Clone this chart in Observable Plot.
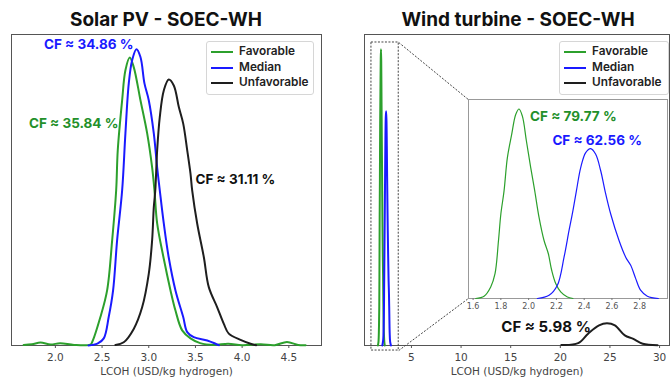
<!DOCTYPE html>
<html><head><meta charset="utf-8">
<script src="https://cdn.jsdelivr.net/npm/d3@7"></script>
<script src="https://cdn.jsdelivr.net/npm/@observablehq/plot@0.6"></script>
<style>
body{margin:0;background:#fff;}
#root{position:relative;width:670px;height:378px;overflow:hidden;font-family:"DejaVu Sans",sans-serif;}
.title{position:absolute;top:8px;width:300px;line-height:21px;font:700 19px Inter,sans-serif;color:#111;text-align:center;}
.legend{position:absolute;top:41px;height:54px;box-sizing:border-box;border:1px solid #d6d6d6;border-radius:3px;background:#fff;padding-top:2px;}
.row{position:relative;height:15.5px;font:600 11.8px Inter,sans-serif;color:#222;line-height:15.5px;}
.row .sw{position:absolute;left:4px;top:7px;width:22px;height:2px;}
.row .lb{position:absolute;left:32px;top:0;white-space:nowrap;}
</style></head>
<body><div id="root"></div>
<script>
// ---- series & labels ----
const seriesNames = ["Favorable", "Median", "Unfavorable"];
const seriesColors = ["#2ca02c", "#1a1aff", "#1e1e1e"];
const labelColors = ["#23902a", "#1a1aff", "#111111"];
const panelTitles = ["Solar PV - SOEC-WH", "Wind turbine - SOEC-WH"];
const axisLabel = "LCOH (USD/kg hydrogen)";

// ---- Solar PV densities (LCOH, normalized density) ----
const solarFavorable = [[1.66,0.002],[1.75,0.004],[1.84,0.01],[1.95,0.003],[2.05,0.008],[2.2,0.002],[2.375,0.003],[2.393,0.011],[2.482,0.096],[2.554,0.186],[2.608,0.355],[2.651,0.524],[2.668,0.659],[2.715,0.828],[2.75,0.929],[2.796,0.972],[2.839,0.94],[2.911,0.828],[2.983,0.716],[3.036,0.601],[3.061,0.524],[3.09,0.412],[3.158,0.297],[3.233,0.186],[3.286,0.118],[3.358,0.051],[3.447,0.024],[3.55,0.008],[3.7,0.002],[3.85,0.006],[4.0,0.001],[4.2,0.004],[4.35,0.001],[4.48,0.012],[4.6,0.002],[4.68,0.001]];
const solarMedian = [[2.354,0],[2.45,0.006],[2.518,0.024],[2.571,0.096],[2.618,0.186],[2.661,0.355],[2.715,0.524],[2.75,0.716],[2.786,0.885],[2.822,0.963],[2.868,1.0],[2.911,0.974],[2.954,0.885],[3.0,0.828],[3.054,0.716],[3.09,0.601],[3.118,0.524],[3.161,0.412],[3.214,0.297],[3.286,0.186],[3.369,0.096],[3.412,0.045],[3.482,0.028],[3.626,0.017],[3.715,0.006],[3.75,0.001]];
const solarUnfavorable = [[2.643,0.002],[2.732,0.011],[2.839,0.056],[2.929,0.129],[3.0,0.242],[3.036,0.355],[3.054,0.467],[3.07,0.524],[3.09,0.659],[3.118,0.771],[3.161,0.861],[3.214,0.898],[3.268,0.878],[3.322,0.805],[3.369,0.749],[3.412,0.659],[3.447,0.58],[3.465,0.524],[3.519,0.411],[3.59,0.298],[3.643,0.197],[3.733,0.129],[3.804,0.073],[3.857,0.04],[3.983,0.019],[4.09,0.006],[4.15,0.001]];

// ---- Wind turbine densities ----
const windFavorable = [[1.619,0],[1.679,0.012],[1.727,0.061],[1.758,0.131],[1.783,0.306],[1.8,0.446],[1.823,0.568],[1.847,0.743],[1.878,0.866],[1.907,0.971],[1.931,1.0],[1.955,0.962],[1.984,0.831],[2.015,0.691],[2.044,0.568],[2.075,0.428],[2.111,0.306],[2.142,0.236],[2.166,0.149],[2.195,0.079],[2.231,0.035],[2.279,0.008],[2.319,0]];
const windMedian = [[2.063,0],[2.147,0.017],[2.207,0.07],[2.255,0.218],[2.291,0.359],[2.319,0.464],[2.344,0.568],[2.375,0.691],[2.411,0.77],[2.447,0.791],[2.483,0.761],[2.519,0.674],[2.55,0.568],[2.591,0.446],[2.651,0.306],[2.699,0.218],[2.735,0.175],[2.771,0.105],[2.806,0.044],[2.855,0.012],[2.934,0]];
const windUnfavorable = [[20.1,0.002],[21.8,0.008],[22.8,0.04],[23.9,0.068],[24.7,0.075],[25.5,0.068],[26.5,0.034],[27.3,0.023],[28.3,0.006],[29.8,0.001]];

// ---- tick labels ----
const solarTicks = [2.0, 2.5, 3.0, 3.5, 4.0, 4.5];
const windTicks = [5, 10, 15, 20, 25, 30];
const insetTicks = [1.6, 1.8, 2.0, 2.2, 2.4, 2.6, 2.8];

// ---- capacity-factor annotations ----
const solarCF = ["CF ≈ 35.84 %", "CF ≈ 34.86 %", "CF ≈ 31.11 %"];
const windCF = ["CF ≈ 79.77 %", "CF ≈ 62.56 %", "CF ≈ 5.98 %"];

// ---- layout (data-space anchors, kept separate from values) ----
const solarXDomain = [1.53, 4.85];
const windXDomain = [0.27, 31.0];
const insetXDomain = [1.567, 3.0];
const yDomain = [0, 1.05];
const solarCFPos = [[2.675, 0.75, "end"], [2.836, 1.014, "end"], [3.5, 0.561, "start"]];
const insetCFPos = [[2.01, 0.962, "start"], [2.171, 0.835, "start"]];
const windCFPos = [14.06, 0.062, "start"];
const zoomBox = {x1: 0.97, x2: 3.72, y1: -0.017, y2: 1.023};
const insetBox = {x1: 10.71, x2: 30.81, y1: 0.158, y2: 0.831};

const root = document.getElementById("root");

function curve(data, i, w) {
  return Plot.line(data, {x: d => d[0], y: d => d[1], stroke: seriesColors[i], strokeWidth: w, curve: "catmull-rom"});
}
function cfText(text, pos, i, size) {
  return Plot.text([text], {x: () => pos[0], y: () => pos[1], text: d => d, fill: labelColors[i],
    fontWeight: 700, fontSize: size, fontFamily: "Inter, sans-serif", textAnchor: pos[2]});
}
const axisStyle = {fontFamily: "DejaVu Sans, sans-serif", fontSize: "10.5px", color: "#444", background: "transparent", overflow: "visible"};

function addTitle(text, cx) {
  const t = document.createElement("div");
  t.className = "title"; t.textContent = text; t.style.left = (cx - 150) + "px";
  root.appendChild(t);
}
function addLegend(left, width) {
  const lg = document.createElement("div");
  lg.className = "legend"; lg.style.left = left + "px"; lg.style.width = width + "px";
  seriesNames.forEach((n, i) => {
    const r = document.createElement("div"); r.className = "row";
    r.innerHTML = `<span class="sw" style="background:${seriesColors[i]}"></span><span class="lb">${n}</span>`;
    lg.appendChild(r);
  });
  root.appendChild(lg);
}
function place(svg, left, top) {
  svg.style.position = "absolute"; svg.style.left = left + "px"; svg.style.top = top + "px";
  root.appendChild(svg);
}

// ---- left panel ----
const solarSeries = [solarFavorable, solarMedian, solarUnfavorable];
const left = Plot.plot({
  width: 335, height: 348, marginTop: 4, marginBottom: 33, marginLeft: 11, marginRight: 14,
  style: axisStyle,
  x: {domain: solarXDomain},
  y: {domain: yDomain, axis: null},
  marks: [
    Plot.frame({stroke: "#555"}),
    Plot.axisX({ticks: solarTicks, tickFormat: d3.format(".1f"), tickSize: 3, tickPadding: 5, stroke: "#555",
      label: axisLabel, labelAnchor: "center", labelOffset: 29, labelArrow: "none"}),
    ...solarSeries.map((s, i) => curve(s, i, 2)),
    ...solarCF.map((t, i) => cfText(t, solarCFPos[i], i, 13.5))
  ]
});
place(left, 0, 30);

// ---- right panel ----
const right = Plot.plot({
  width: 335, height: 348, marginTop: 4, marginBottom: 33, marginLeft: 29, marginRight: 1,
  style: axisStyle,
  x: {domain: windXDomain},
  y: {domain: yDomain, axis: null},
  marks: [
    Plot.frame({stroke: "#555"}),
    Plot.axisX({ticks: windTicks, tickFormat: d3.format("d"), tickSize: 3, tickPadding: 5, stroke: "#555",
      label: axisLabel, labelAnchor: "center", labelOffset: 29, labelArrow: "none"}),
    curve(windFavorable, 0, 2), curve(windMedian, 1, 2), curve(windUnfavorable, 2, 2),
    Plot.rect([zoomBox], {x1: "x1", x2: "x2", y1: "y1", y2: "y2", fill: "none", stroke: "#444", strokeWidth: 1, strokeDasharray: "2,1.5"}),
    Plot.link([{a: zoomBox.x2, b: zoomBox.y2, c: insetBox.x1, d: insetBox.y2}, {a: zoomBox.x2, b: zoomBox.y1, c: insetBox.x1, d: insetBox.y1}],
      {x1: "a", y1: "b", x2: "c", y2: "d", stroke: "#444", strokeWidth: 1, strokeDasharray: "2,1.5"}),
    cfText(windCF[2], windCFPos, 2, 15)
  ]
});
place(right, 335, 30);

// ---- inset (zoom of the two narrow wind densities) ----
const sx = right.scale("x"), sy = right.scale("y");
const px1 = sx.apply(insetBox.x1), px2 = sx.apply(insetBox.x2);
const py1 = sy.apply(insetBox.y2), py2 = sy.apply(insetBox.y1);
const im = {l: 6, r: 2, t: 2, b: 18};
const inset = Plot.plot({
  width: Math.round(px2 - px1) + im.l + im.r, height: Math.round(py2 - py1) + im.t + im.b,
  marginLeft: im.l, marginRight: im.r, marginTop: im.t, marginBottom: im.b,
  style: {fontFamily: "DejaVu Sans, sans-serif", fontSize: "8px", color: "#555", background: "transparent", overflow: "visible"},
  x: {domain: insetXDomain},
  y: {domain: yDomain, axis: null},
  marks: [
    Plot.frame({stroke: "#999", fill: "white"}),
    Plot.axisX({ticks: insetTicks, tickFormat: d3.format(".1f"), tickSize: 2, tickPadding: 3, stroke: "#777", label: null}),
    curve(windFavorable, 0, 1.2), curve(windMedian, 1, 1.2),
    cfText(windCF[0], insetCFPos[0], 0, 13.5),
    cfText(windCF[1], insetCFPos[1], 1, 13.5)
  ]
});
place(inset, 335 + px1 - im.l, 30 + py1 - im.t);

addTitle(panelTitles[0], 166);
addTitle(panelTitles[1], 518);
addLegend(206, 108);
addLegend(559, 110);
</script>
</body></html>
